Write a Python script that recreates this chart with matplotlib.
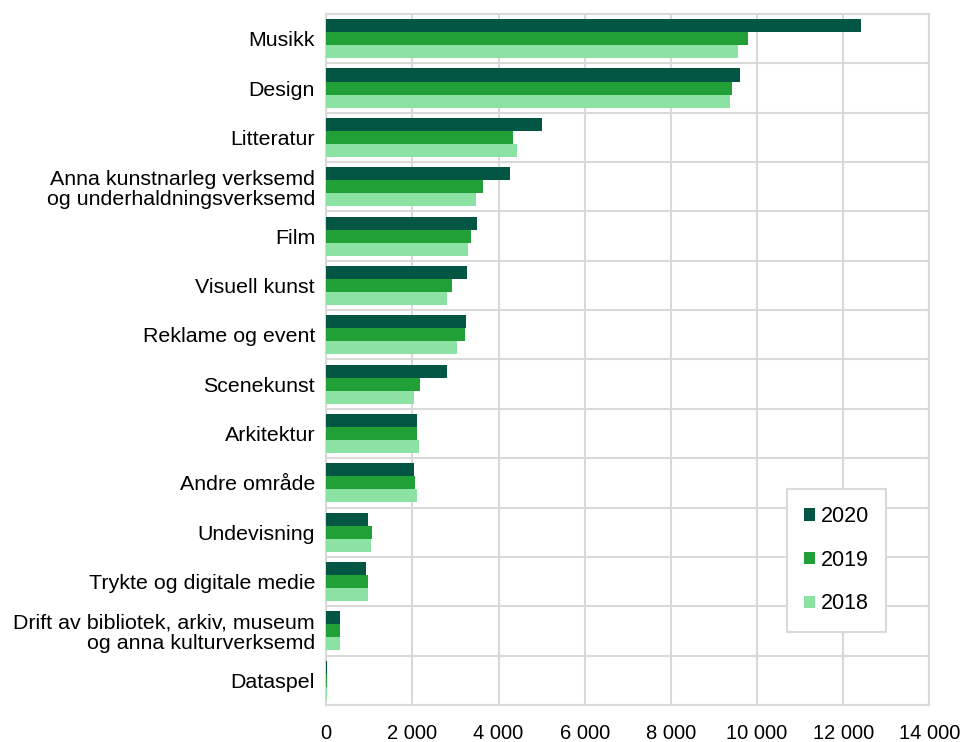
"""
Sysselsette i kulturnæringane etter område, 2018-2020
"""

import numpy as np
import matplotlib.pyplot as plt
from matplotlib import rcParams
import matplotlib.transforms as mtransforms
from matplotlib.ticker import FuncFormatter

rcParams["font.family"] = ["Liberation Sans", "DejaVu Sans"]
rcParams["font.size"] = 12.5

categories = [
    "Musikk",
    "Design",
    "Litteratur",
    "Anna kunstnarleg verksemd\nog underhaldningsverksemd",
    "Film",
    "Visuell kunst",
    "Reklame og event",
    "Scenekunst",
    "Arkitektur",
    "Andre område",
    "Undevisning",
    "Trykte og digitale medie",
    "Drift av bibliotek, arkiv, museum\nog anna kulturverksemd",
    "Dataspel",
]
years = ["2020", "2019", "2018"]
values_2020 = [12410, 9610, 5000, 4270, 3490, 3260, 3255, 2800, 2100, 2045, 960, 930, 330, 25]
values_2019 = [9800, 9410, 4340, 3640, 3360, 2930, 3220, 2170, 2110, 2070, 1070, 970, 330, 15]
values_2018 = [9560, 9375, 4420, 3470, 3300, 2800, 3030, 2030, 2160, 2100, 1030, 975, 330, 15]
colors = ["#035544", "#21a038", "#8ce2a3"]

fig, ax = plt.subplots(figsize=(9.68, 7.42), dpi=100)
fig.subplots_adjust(left=0.337, right=0.96, top=0.981, bottom=0.05)

y = np.arange(len(categories))
h = 0.265
for i, (vals, year) in enumerate(zip([values_2020, values_2019, values_2018], years)):
    ax.barh(y + (i - 1) * h, vals, height=h, color=colors[i], label=year, zorder=3)

ax.set_yticks(y)
ax.set_yticklabels(categories, ha="right", linespacing=1.05, fontsize=15.4)
ax.set_ylim(len(categories) - 0.5, -0.5)
ax.set_yticks(np.arange(len(categories) + 1) - 0.5, minor=True)

ax.set_xlim(0, 14000)
ax.set_xticks(np.arange(0, 14001, 2000))
ax.xaxis.set_major_formatter(FuncFormatter(lambda v, p: f"{int(v):,}".replace(",", " ")))
ax.tick_params(axis="x", labelsize=14.5, pad=14)
# labels sit a touch right of the gridlines in the original
shift = mtransforms.ScaledTranslation(4 / 100, 0, fig.dpi_scale_trans)
for lab in ax.get_xticklabels():
    lab.set_transform(lab.get_transform() + shift)

ax.grid(True, axis="x", which="major", color="#d9d9d9", linewidth=1.5, zorder=0)
ax.grid(True, axis="y", which="minor", color="#d9d9d9", linewidth=1.5, zorder=0)
ax.tick_params(which="both", length=0)
ax.tick_params(axis="y", pad=8)
for s in ax.spines.values():
    s.set_color("#d9d9d9")
    s.set_linewidth(1.5)

leg = ax.legend(
    loc="lower right",
    bbox_to_anchor=(0.929, 0.106),
    fancybox=False,
    edgecolor="#d9d9d9",
    handlelength=0.5,
    handleheight=0.5,
    handletextpad=0.3,
    labelspacing=1.05,
    borderpad=0.8,
    borderaxespad=0,
    fontsize=15.5,
)
leg.get_frame().set_linewidth(1.5)
leg.get_frame().set_alpha(1)

plt.savefig("out.png", dpi=100)
